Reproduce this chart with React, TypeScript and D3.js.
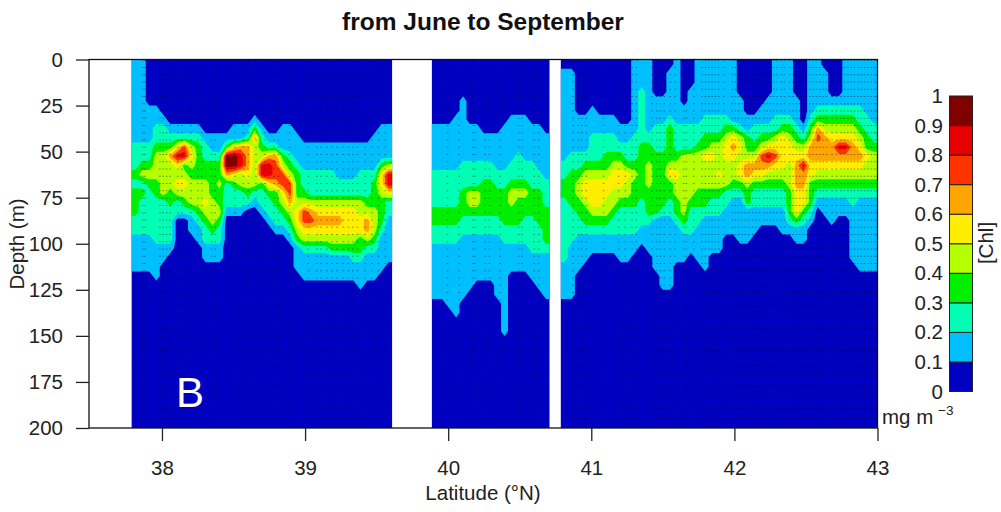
import React, { useEffect, useRef } from "react";
import * as d3 from "d3";

const latTicks = [38, 39, 40, 41, 42, 43];
const depthTicks = [0, 25, 50, 75, 100, 125, 150, 175, 200];
const chlBreaks = [0, 0.1, 0.2, 0.3, 0.4, 0.5, 0.6, 0.7, 0.8, 0.9, 1];
const chlColors = ["#0000c0", "#00bfff", "#00ffb4", "#00ee00", "#b4ff00", "#ffee00", "#ffa500", "#ff3300", "#e60000", "#800000"];

// chl class per cell (0 = 0-0.1 ... 9 = 0.9-1), one string per 5 m depth bin
const depthStep = 5;

const southLat = [37.788, 39.608];
const southRows = [
  "11000 00000 00000 00000 00000 00000 00000 00",
  "11000 00000 00000 00000 00000 00000 00000 00",
  "11000 00000 00000 00000 00000 00000 00000 00",
  "11000 00000 00000 00000 00000 00000 00000 00",
  "11000 00000 00000 00000 00000 00000 00000 00",
  "11110 00000 00000 00000 00000 00000 00000 00",
  "11111 00000 00000 00100 00000 00000 00000 00",
  "11122 11111 00001 11310 01100 00000 00000 11",
  "11122 22222 11111 12621 11110 00000 00001 11",
  "22233 35743 21135 66432 21111 11111 11111 11",
  "22244 68853 22299 86446 63211 11111 11111 11",
  "23344 45343 33399 86488 74321 11111 11111 34",
  "34444 44433 33365 45488 77432 22221 11222 58",
  "22334 45544 43423 44435 67732 22222 22223 58",
  "33234 34444 43322 23223 35733 22222 22223 45",
  "32222 32344 54322 22122 34644 44444 44433 32",
  "32222 22223 44411 10012 23457 65555 55444 32",
  "22222 20012 34300 00001 22357 76666 55564 31",
  "22222 20011 23200 00000 11245 55555 55564 21",
  "11122 20001 22200 00000 00134 44444 44343 11",
  "11111 10000 11100 00000 00012 22233 33322 11",
  "11111 00000 11100 00000 00011 11111 12211 11",
  "11110 00000 00000 00000 00011 11111 11111 10",
  "00010 00000 00000 00000 00001 11111 11111 00",
  "00000 00000 00000 00000 00000 00000 00100 00",
];

const middleLat = [39.886, 40.708];
const middleRows = [
  "00000 00000 00000 00",
  "00000 00000 00000 00",
  "00000 00000 00000 00",
  "00000 00000 00000 00",
  "00001 00000 00000 00",
  "00001 00000 00000 00",
  "00011 00000 01110 00",
  "11111 11000 11111 10",
  "11111 11111 11111 11",
  "11111 11111 11111 11",
  "11111 11111 11211 11",
  "11112 22221 12222 11",
  "22222 22222 22222 21",
  "22222 22332 23332 22",
  "22223 44333 34443 32",
  "22223 44333 34333 32",
  "33333 33333 33333 33",
  "33332 22222 33322 33",
  "22222 22222 22222 23",
  "22221 11111 22222 23",
  "11111 11111 11112 22",
  "11111 11111 11111 11",
  "11111 11111 11111 11",
  "11111 11111 10001 11",
  "11111 10001 10000 11",
  "11111 00001 10000 01",
  "00110 00000 10000 00",
  "00010 00000 10000 00",
  "00000 00000 10000 00",
  "00000 00000 10000 00",
];

const northLat = [40.787, 43];
const northRows = [
  "00000 00000 11100 01001 11111 00000 11100 11000 11111",
  "11000 00000 11100 11001 11111 00000 11100 11100 11111",
  "11000 00000 11100 11001 11111 00000 11100 11100 11111",
  "11000 00000 12100 11011 11111 00000 11100 11100 11111",
  "11000 00000 12111 11011 11111 10001 11110 11111 11111",
  "11001 00000 12111 11111 11111 10011 11110 12222 22211",
  "11111 11100 12111 21111 22221 11111 22210 23333 33221",
  "11111 11111 12122 32222 22233 21222 23321 36444 44322",
  "11112 22211 22222 32222 33345 43233 45432 47655 55432",
  "11112 22222 23322 32223 34456 53345 55544 66668 86533",
  "12222 23332 23333 33444 55455 44478 75555 66666 66654",
  "22233 33443 33433 44444 44444 56666 55468 55555 55544",
  "23344 44555 43433 55444 44544 56554 44466 54444 44444",
  "33455 55554 33433 34444 44443 34333 33466 33333 33333",
  "33455 55444 33333 34443 33322 23222 22355 32222 22222",
  "23345 54433 32333 23433 32221 13222 22355 31111 12111",
  "22334 44322 22332 23422 22211 11111 11353 20111 11111",
  "22233 33222 22211 12322 11111 11111 11232 10010 01111",
  "22222 22222 21111 11221 11111 11100 01111 00000 01111",
  "22111 11111 11111 11111 11100 11000 00011 00000 01111",
  "21111 11111 10111 11111 11100 00000 00000 00000 01111",
  "21110 00011 00011 11101 10000 00000 00000 00000 01111",
  "11100 00000 00011 10000 10000 00000 00000 00000 00111",
  "11000 00000 00001 10000 00000 00000 00000 00000 00000",
  "11000 00000 00001 10000 00000 00000 00000 00000 00000",
  "11000 00000 00000 00000 00000 00000 00000 00000 00000",
];

// sampling stations
const southStations = [
  37.865, 37.881, 37.986, 38.009, 38.033, 38.056, 38.11, 38.138, 38.203, 38.25, 38.278, 38.347, 38.371, 38.51, 38.569,
  38.604, 38.657, 38.72, 38.783, 38.814, 38.89, 39.023, 39.082, 39.11, 39.152, 39.187, 39.222, 39.268, 39.303, 39.333,
  39.366, 39.42, 39.466, 39.513, 39.56,
];
const middleStations = [39.995, 40.077, 40.173, 40.189, 40.259, 40.289, 40.364, 40.492, 40.515, 40.601, 40.632];
const northStations = [
  40.872, 40.911, 40.935, 40.965, 41.086, 41.191, 41.238, 41.285, 41.315, 41.424, 41.459, 41.483, 41.51, 41.552, 41.587,
  41.646, 41.664, 41.716, 41.774, 41.797, 41.821, 41.844, 41.867, 41.891, 41.925, 41.984, 42.007, 42.03, 42.054, 42.077,
  42.1, 42.128, 42.152, 42.175, 42.205, 42.228, 42.252, 42.275, 42.298, 42.326, 42.35, 42.387, 42.41, 42.434, 42.457,
  42.48, 42.504, 42.527, 42.55, 42.573, 42.597, 42.62, 42.643, 42.683, 42.713, 42.746, 42.769, 42.793, 42.816, 42.839,
  42.863, 42.886, 42.909, 42.933, 42.956, 42.979, 42.998,
];
const sampleDepths = d3.range(0, 198, 3.94);

const sections = [
  { lat: southLat, rows: southRows },
  { lat: middleLat, rows: middleRows },
  { lat: northLat, rows: northRows },
];

const font = "'Liberation Sans', Arial, sans-serif";
const width = 1001;
const height = 512;
const plot = { left: 89, right: 877.5, top: 59.5, bottom: 428 };
const bar = { left: 949.5, right: 972.5, top: 96, bottom: 391.5 };
const labelSize = 20.5;

const App = () => {
  const svgRef = useRef<SVGSVGElement>(null);

  useEffect(() => {
    const svg = d3.select(svgRef.current);
    svg.selectAll("*").remove();

    const x = d3.scaleLinear().domain([37.49, 43]).range([plot.left, plot.right]);
    const y = d3.scaleLinear().domain([0, 200]).range([plot.top, plot.bottom]);
    const nRows = 30;

    sections.forEach(({ lat, rows }, si) => {
      const clean = rows.map((r) => r.replace(/ /g, ""));
      const nCols = clean[0].length;
      // pad one cell on the top and sides so contours run straight into the section edges
      const values: number[] = [];
      for (let r = -1; r < nRows; r++) {
        const row = clean[Math.max(r, 0)] || "";
        for (let c = -1; c <= nCols; c++) {
          values.push(Number(row[Math.min(Math.max(c, 0), nCols - 1)] || 0) + 0.5);
        }
      }
      const latStep = (lat[1] - lat[0]) / nCols;
      const path = d3.geoPath(
        d3.geoTransform({
          point(px, py) {
            this.stream.point(x(lat[0] + (px - 1) * latStep), y((py - 1) * depthStep));
          },
        })
      );

      const clipId = `section-${si}`;
      svg
        .append("clipPath")
        .attr("id", clipId)
        .append("rect")
        .attr("x", x(lat[0]))
        .attr("y", y(0))
        .attr("width", x(lat[1]) - x(lat[0]))
        .attr("height", y(200) - y(0));

      // whole section starts as the lowest class
      svg
        .append("rect")
        .attr("x", x(lat[0]))
        .attr("y", y(0))
        .attr("width", x(lat[1]) - x(lat[0]))
        .attr("height", y(200) - y(0))
        .attr("fill", chlColors[0]);

      const contours = d3
        .contours()
        .size([nCols + 2, nRows + 1])
        .thresholds(d3.range(1, 10))(values);
      svg
        .append("g")
        .attr("clip-path", `url(#${clipId})`)
        .selectAll("path")
        .data(contours)
        .join("path")
        .attr("d", (d) => path(d))
        .attr("fill", (d) => chlColors[d.value]);
    });

    // sampling points
    const dots = d3.path();
    [...southStations, ...middleStations, ...northStations].forEach((lat) => {
      sampleDepths.forEach((depth) => {
        dots.rect(x(lat) - 0.8, y(depth) + 0.2, 1.6, 1);
      });
    });
    svg.append("path").attr("d", dots.toString()).attr("fill", "#000").attr("opacity", 0.42);

    // plot frame
    svg
      .append("rect")
      .attr("x", plot.left)
      .attr("y", plot.top)
      .attr("width", plot.right - plot.left)
      .attr("height", plot.bottom - plot.top)
      .attr("fill", "none")
      .attr("stroke", "#111")
      .attr("stroke-width", 1.3);

    const xAxis = svg
      .append("g")
      .attr("transform", `translate(0,${plot.bottom})`)
      .call(d3.axisBottom(x).tickValues(latTicks).tickSize(13).tickPadding(19).tickFormat(d3.format("d")));
    const yAxis = svg
      .append("g")
      .attr("transform", `translate(${plot.left},0)`)
      .call(d3.axisLeft(y).tickValues(depthTicks).tickSize(13).tickPadding(13));
    [xAxis, yAxis].forEach((axis) => {
      axis.select(".domain").remove();
      axis.selectAll("line").attr("stroke", "#222").attr("stroke-width", 1.3);
      axis.selectAll("text").attr("font-family", font).attr("font-size", labelSize).attr("fill", "#222");
    });

    const addText = (txt: string, tx: number, ty: number, size: number, opts: any = {}) =>
      svg
        .append("text")
        .attr("x", tx)
        .attr("y", ty)
        .attr("font-family", font)
        .attr("font-size", size)
        .attr("fill", opts.fill || "#222")
        .attr("font-weight", opts.weight || "normal")
        .attr("text-anchor", opts.anchor || "middle")
        .attr("transform", opts.rotate ? `rotate(-90,${tx},${ty})` : null)
        .text(txt);

    addText("from June to September", 483, 30, 24.5, { weight: "bold", fill: "#111" });
    addText("Latitude (°N)", 483, 500, labelSize);
    addText("Depth (m)", 24, 244, labelSize, { rotate: true });
    addText("B", 190, 407, 42, { fill: "#fff" });

    // colour bar
    const barY = d3.scaleLinear().domain([0, 1]).range([bar.bottom, bar.top]);
    svg
      .append("g")
      .selectAll("rect")
      .data(chlColors)
      .join("rect")
      .attr("x", bar.left)
      .attr("width", bar.right - bar.left)
      .attr("y", (_, i) => barY(chlBreaks[i + 1]))
      .attr("height", (_, i) => barY(chlBreaks[i]) - barY(chlBreaks[i + 1]))
      .attr("fill", (d) => d)
      .attr("stroke", "#222")
      .attr("stroke-width", 1);
    svg
      .append("g")
      .selectAll("text")
      .data(chlBreaks)
      .join("text")
      .attr("x", 943)
      .attr("y", (d) => barY(d) + 7)
      .attr("text-anchor", "end")
      .attr("font-family", font)
      .attr("font-size", labelSize)
      .attr("fill", "#222")
      .text((d) => String(d));

    addText("[Chl]", 993, 243, labelSize, { rotate: true });
    addText("mg m", 882, 424, labelSize, { anchor: "start" });
    addText("−3", 938, 415, 13.5, { anchor: "start" });
  }, []);

  return (
    <svg
      ref={svgRef}
      width={width}
      height={height}
      style={{ position: "absolute", left: 0, top: 0, background: "#fff" }}
    />
  );
};

export default App;
